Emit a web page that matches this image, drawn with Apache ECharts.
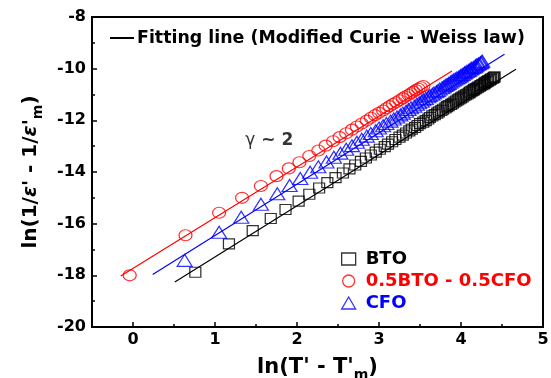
<!DOCTYPE html>
<html>
<head>
<meta charset="utf-8">
<script src="https://cdn.jsdelivr.net/npm/echarts@6/dist/echarts.min.js"></script>
<style>html,body{margin:0;padding:0;background:#fff}#c{width:551px;height:378px}</style>
</head>
<body>
<div id="c"></div>
<script>
// ---- axis ticks ----
const xMin = -0.5, xMax = 5;
const xMajorTicks = [0, 1, 2, 3, 4, 5];
const xMinorTicks = [0.5, 1.5, 2.5, 3.5, 4.5];
const yMin = -20, yMax = -8, yStep = 2;

// ---- BTO (black squares) ----
const btoX = [0.76,1.17,1.46,1.68,1.86,2.02,2.15,2.27,2.37,2.47,2.56,2.64,2.71,2.78,2.84,2.90,2.96,3.01,3.07,3.11,
  3.16,3.20,3.25,3.29,3.33,3.37,3.40,3.44,3.47,3.50,3.54,3.57,3.60,3.62,3.65,3.68,3.71,3.73,3.76,3.78,
  3.81,3.83,3.85,3.88,3.90,3.92,3.94,3.96,3.98,4.00,4.02,4.04,4.06,4.08,4.10,4.11,4.13,4.15,4.16,4.18,
  4.20,4.21,4.23,4.24,4.26,4.28,4.29,4.30,4.32,4.33,4.35,4.36,4.37,4.39,4.40,4.41];
const btoY = [-17.88,-16.78,-16.27,-15.80,-15.45,-15.13,-14.86,-14.62,-14.41,-14.22,-14.04,-13.88,-13.73,-13.59,-13.46,-13.34,-13.23,-13.12,-13.02,-12.92,
  -12.83,-12.74,-12.65,-12.57,-12.49,-12.41,-12.34,-12.27,-12.20,-12.13,-12.07,-12.01,-11.95,-11.89,-11.83,-11.78,-11.72,-11.67,-11.62,-11.57,
  -11.52,-11.47,-11.43,-11.38,-11.34,-11.29,-11.25,-11.21,-11.17,-11.13,-11.09,-11.05,-11.01,-10.98,-10.94,-10.91,-10.87,-10.84,-10.80,-10.77,
  -10.74,-10.71,-10.68,-10.65,-10.62,-10.59,-10.56,-10.53,-10.50,-10.47,-10.45,-10.42,-10.39,-10.37,-10.34,-10.32];

// ---- 0.5BTO - 0.5CFO (red circles) ----
const mixX = [-0.04,0.64,1.05,1.33,1.56,1.75,1.90,2.03,2.15,2.26,2.35,2.44,2.52,2.60,2.67,2.73,2.79,2.85,2.90,2.95,
  3.00,3.05,3.09,3.13,3.17,3.21,3.25,3.29,3.32,3.36,3.39,3.42,3.45,3.48,3.51,3.54];
const mixY = [-18.00,-16.45,-15.58,-15.00,-14.54,-14.16,-13.86,-13.62,-13.38,-13.17,-12.98,-12.81,-12.65,-12.50,-12.36,-12.24,-12.12,-12.01,-11.90,-11.80,
  -11.71,-11.62,-11.53,-11.45,-11.37,-11.30,-11.22,-11.15,-11.08,-11.02,-10.95,-10.89,-10.83,-10.78,-10.72,-10.67];

// ---- CFO (blue triangles) ----
const cfoX = [0.63,1.05,1.32,1.56,1.76,1.91,2.04,2.16,2.26,2.36,2.45,2.53,2.60,2.67,2.73,2.79,2.85,2.90,2.96,3.00,
  3.05,3.09,3.14,3.18,3.22,3.26,3.29,3.33,3.36,3.39,3.43,3.46,3.49,3.52,3.54,3.57,3.60,3.62,3.65,3.67,
  3.70,3.72,3.74,3.77,3.79,3.81,3.83,3.85,3.87,3.89,3.91,3.93,3.95,3.97,3.99,4.00,4.02,4.04,4.05,4.07,
  4.09,4.10,4.12,4.13,4.15,4.17,4.18,4.19,4.21,4.22,4.24,4.25,4.26];
const cfoY = [-17.42,-16.33,-15.75,-15.25,-14.84,-14.52,-14.25,-14.01,-13.80,-13.61,-13.43,-13.27,-13.12,-12.98,-12.85,-12.73,-12.61,-12.51,-12.40,-12.30,
  -12.21,-12.12,-12.03,-11.95,-11.87,-11.79,-11.72,-11.65,-11.58,-11.51,-11.45,-11.38,-11.32,-11.26,-11.20,-11.15,-11.09,-11.04,-10.99,-10.94,
  -10.89,-10.84,-10.79,-10.74,-10.70,-10.65,-10.61,-10.57,-10.52,-10.48,-10.44,-10.40,-10.36,-10.33,-10.29,-10.25,-10.22,-10.18,-10.15,-10.11,
  -10.08,-10.05,-10.01,-9.98,-9.95,-9.92,-9.89,-9.86,-9.83,-9.80,-9.77,-9.74,-9.71];

// ---- fitting lines (end points) ----
const fitBtoX = [0.51, 4.67], fitBtoY = [-18.26, -10.02];
const fitMixX = [-0.15, 3.89], fitMixY = [-18.03, -10.09];
const fitCfoX = [0.24, 4.53], fitCfoY = [-17.97, -9.44];

// ---- annotation ----
const gammaX = 1.37, gammaY = -12.77;

const FONT = 'DejaVu Sans';
const zip = (a, b) => a.map((v, i) => [v, b[i]]);
const FIT_NAME = 'Fitting line (Modified Curie - Weiss law)';

const chart = echarts.init(document.getElementById('c'));
chart.setOption({
  animation: false,
  backgroundColor: '#fff',
  grid: { left: 92, right: 8, top: 17, bottom: 51, containLabel: false, outerBoundsMode: 'none',
    show: true, borderColor: '#000', borderWidth: 2, backgroundColor: 'transparent' },
  legend: [
    {
      data: [{ name: FIT_NAME, icon: 'rect' }],
      left: 110, top: 28, padding: 0, itemWidth: 24, itemHeight: 2,
      textStyle: { fontFamily: FONT, fontWeight: 'bold', fontSize: 17.4, color: '#000', lineHeight: 20, padding: [0, 0, 0, -2] },
      selectedMode: false
    },
    {
      data: [
        { name: 'BTO', textStyle: { color: '#000' }, itemStyle: { color: 'transparent', borderColor: '#000', borderWidth: 1.3 } },
        { name: '0.5BTO - 0.5CFO', textStyle: { color: '#ff0000' }, itemStyle: { color: 'transparent', borderColor: '#ff0000', borderWidth: 1.3 } },
        { name: 'CFO', textStyle: { color: '#0000ff' }, itemStyle: { color: 'transparent', borderColor: '#0000ff', borderWidth: 1.3 } }
      ],
      orient: 'vertical', left: 341, top: 249, padding: 0, itemWidth: 14, itemHeight: 12, itemGap: 2,
      textStyle: { fontFamily: FONT, fontWeight: 'bold', fontSize: 18, lineHeight: 20, padding: [0, 0, 0, 5] },
      selectedMode: false
    }
  ],
  xAxis: [
    {
      type: 'value', min: xMin, max: xMax,
      name: '{a|ln(T\' - T\'}{s|m}{a|)}', nameLocation: 'middle', nameGap: 27,
      nameTextStyle: { rich: {
        a: { fontFamily: FONT, fontWeight: 'bold', fontSize: 21, color: '#000', lineHeight: 28, verticalAlign: 'middle' },
        s: { fontFamily: FONT, fontWeight: 'bold', fontSize: 14, color: '#000', lineHeight: 14, verticalAlign: 'bottom' }
      } },
      axisLine: { show: true, onZero: false, lineStyle: { color: '#000', width: 2 } },
      axisTick: { show: true, inside: true, length: 5, customValues: xMajorTicks, lineStyle: { color: '#000', width: 1.5 } },
      axisLabel: { show: true, customValues: xMajorTicks, margin: 5, fontFamily: FONT, fontWeight: 'bold', fontSize: 16, color: '#000' },
      splitLine: { show: false }
    },
    {
      type: 'value', min: xMin, max: xMax, position: 'bottom',
      axisLine: { show: false, onZero: false },
      axisTick: { show: true, inside: true, length: 3, customValues: xMinorTicks, lineStyle: { color: '#000', width: 1.5 } },
      axisLabel: { show: false },
      splitLine: { show: false }
    }
  ],
  yAxis: {
    type: 'value', min: yMin, max: yMax, interval: yStep,
    name: '{a|ln(1/}{e|ε}{a|\' - 1/}{e|ε}{a|\'}{s|m}{a|)}', nameLocation: 'middle', nameGap: 47, nameRotate: 90,
    nameTextStyle: { rich: {
      a: { fontFamily: FONT, fontWeight: 'bold', fontSize: 20, color: '#000', lineHeight: 28, verticalAlign: 'middle' },
      e: { fontFamily: FONT, fontStyle: 'italic', fontWeight: 'bold', fontSize: 20, color: '#000', lineHeight: 28, verticalAlign: 'middle' },
      s: { fontFamily: FONT, fontWeight: 'bold', fontSize: 14, color: '#000', lineHeight: 14, verticalAlign: 'bottom' }
    } },
    axisLine: { show: true, onZero: false, lineStyle: { color: '#000', width: 2 } },
    axisTick: { show: true, inside: true, length: 5, lineStyle: { color: '#000', width: 1.5 } },
    minorTick: { show: true, splitNumber: 2, length: 3, lineStyle: { color: '#000', width: 1.5 } },
    axisLabel: { margin: 6, fontFamily: FONT, fontWeight: 'bold', fontSize: 16, color: '#000' },
    splitLine: { show: false }
  },
  series: [
    { name: 'BTO', type: 'scatter', symbol: 'rect', symbolSize: [11, 10], data: zip(btoX, btoY),
      itemStyle: { color: 'transparent', borderColor: '#000', borderWidth: 1.2 }, z: 2 },
    { name: '0.5BTO - 0.5CFO', type: 'scatter', symbol: 'circle', symbolSize: [13, 11], data: zip(mixX, mixY),
      itemStyle: { color: 'transparent', borderColor: '#ff0000', borderWidth: 1.2 }, z: 2 },
    { name: 'CFO', type: 'scatter', symbol: 'triangle', symbolSize: [15, 12], data: zip(cfoX, cfoY),
      itemStyle: { color: 'transparent', borderColor: '#0000ff', borderWidth: 1.2 }, z: 2 },
    { name: FIT_NAME, type: 'line', symbol: 'none', data: zip(fitBtoX, fitBtoY),
      lineStyle: { color: '#000', width: 1.2 }, itemStyle: { color: '#000' }, z: 3 },
    { name: 'fitMix', type: 'line', symbol: 'none', data: zip(fitMixX, fitMixY),
      lineStyle: { color: '#ff0000', width: 1.2 }, z: 3 },
    { name: 'fitCfo', type: 'line', symbol: 'none', data: zip(fitCfoX, fitCfoY),
      lineStyle: { color: '#0000ff', width: 1.2 }, z: 3 },
    { name: 'gamma', type: 'scatter', symbolSize: 0, silent: true, data: [[gammaX, gammaY]],
      label: { show: true, position: 'right', distance: 0, formatter: '{g|γ}{b| ~ 2}',
        rich: {
          g: { fontFamily: FONT, fontSize: 17, color: '#000' },
          b: { fontFamily: FONT, fontWeight: 'bold', fontSize: 17, color: '#000' }
        } }, z: 4 }
  ]
});
</script>
</body>
</html>
